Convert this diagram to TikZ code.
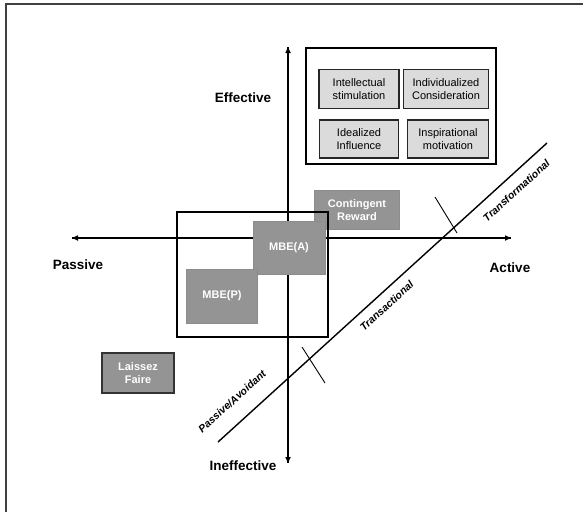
\documentclass[tikz,border=0pt]{standalone}
\usepackage{fontspec}
\setmainfont{Liberation Sans}
\usetikzlibrary{arrows.meta}
\tikzset{
  axis/.style={line width=1.6pt,-{Triangle[length=6pt,width=5pt]}},
  axlabel/.style={font=\bfseries\fontsize{13.5}{14}\selectfont},
  lightbox/.style={draw=black!85,line width=1.4pt,fill=black!14,align=center,
    font=\fontsize{11}{12.5}\selectfont,inner sep=0pt},
  darkbox/.style={draw=black!45,line width=0.6pt,fill=black!42,text=white,align=center,
    font=\bfseries\fontsize{11}{12.5}\selectfont,inner sep=0pt},
  lfbox/.style={draw=black!80,line width=1.4pt,fill=black!42,text=white,align=center,
    font=\bfseries\fontsize{11}{12.5}\selectfont,inner sep=0pt},
  diaglabel/.style={font=\bfseries\itshape\fontsize{10.5}{12}\selectfont,sloped,inner sep=0pt},
  thinline/.style={line width=0.9pt}
}
\begin{document}
\begin{tikzpicture}[x=1pt,y=-1pt]
\useasboundingbox (0,0) rectangle (583,512);
% outer frame (left and top edges)
\draw[line width=2pt,black!75] (6,512) -- (6,4) -- (583,4);

% axes
\coordinate (vtop) at (288,47);
\coordinate (vbot) at (288,463);
\coordinate (hleft) at (72,238);
\coordinate (hright) at (511,238);
\draw[axis] (vbot) -- (vtop);
\draw[axis] (vtop) -- (vbot);
\draw[axis] (hright) -- (hleft);
\draw[axis] (hleft) -- (hright);

\node[axlabel] (eff) at (243,98) {Effective};
\node[axlabel] (ineff) at (243,466) {Ineffective};
\node[axlabel] (pas) at (78,265) {Passive};
\node[axlabel] (act) at (510,268) {Active};

% transformational group
\draw[line width=2pt] (306,48) rectangle (496,164);
\node[lightbox,minimum width=80pt,minimum height=39pt] (is) at (359,89) {Intellectual\\stimulation};
\node[lightbox,minimum width=85pt,minimum height=39pt] (ic) at (446,89) {Individualized\\Consideration};
\node[lightbox,minimum width=79pt,minimum height=38pt] (ii) at (359,139) {Idealized\\Influence};
\node[lightbox,minimum width=81pt,minimum height=38pt] (im) at (448,139) {Inspirational\\motivation};

% contingent reward & MBE
\node[darkbox,minimum width=85pt,minimum height=39pt] (cr) at (357,210) {Contingent\\Reward};
\draw[line width=1.8pt] (177,212) rectangle (328,337);
\node[darkbox,minimum width=72pt,minimum height=53pt] (mbea) at (289,248) {MBE(A)};
\node[darkbox,minimum width=71pt,minimum height=54pt] (mbep) at (222,296) {MBE(P)};

\node[lfbox,minimum width=72pt,minimum height=40pt] (lf) at (138,373) {Laissez\\Faire};

% diagonal continuum
\coordinate (d0) at (218,442);
\coordinate (d1) at (547,143);
\draw[line width=1.4pt] (d0) -- (d1)
  node[diaglabel,pos=0.085,above=16pt] (pa) {Passive/Avoidant}
  node[diaglabel,pos=0.487,below=8pt] (tr) {Transactional}
  node[diaglabel,pos=0.877,below=10pt] (tf) {Transformational};
\coordinate (t1a) at (302,347);
\coordinate (t1b) at (325,383);
\coordinate (t2a) at (435,197);
\coordinate (t2b) at (457,233);
\draw[thinline] (t1a) -- (t1b);
\draw[thinline] (t2a) -- (t2b);
\end{tikzpicture}
\end{document}
